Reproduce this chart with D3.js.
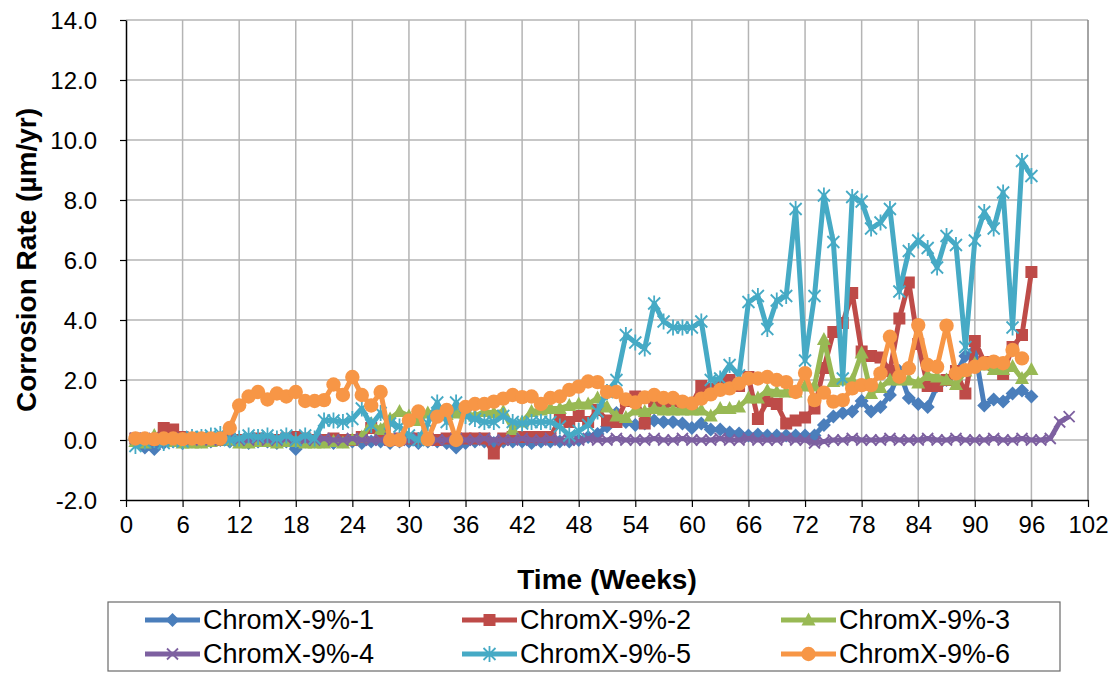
<!DOCTYPE html>
<html>
<head>
<meta charset="utf-8">
<script src="https://cdn.jsdelivr.net/npm/d3@7"></script>
<style>
  html, body { margin: 0; padding: 0; background: #fff; }
  svg { display: block; font-family: "Liberation Sans", Arial, sans-serif; }
</style>
</head>
<body>
<svg id="chart" width="1119" height="673"></svg>
<script>
// Weekly corrosion-rate readings (µm/yr); index 0 = week 1
const seriesNames = ["ChromX-9%-1", "ChromX-9%-2", "ChromX-9%-3", "ChromX-9%-4", "ChromX-9%-5", "ChromX-9%-6"];

const rate1 = [0.0, -0.25, -0.3, -0.1, -0.05, -0.1, -0.05, -0.05, -0.05, 0.0,
  -0.05, -0.05, -0.1, -0.05, -0.05, -0.1, -0.05, -0.3, -0.05, -0.05,
  -0.05, -0.1, -0.05, -0.05, -0.1, -0.05, -0.05, -0.1, -0.05, -0.05,
  -0.1, -0.05, -0.05, -0.1, -0.25, -0.1, -0.05, -0.05, -0.1, -0.05,
  -0.05, -0.05, -0.1, -0.05, -0.05, -0.05, -0.05, 0.0, 0.1, 0.2,
  0.45, 0.9, 0.6, 0.5, 0.55, 0.65, 0.6, 0.6, 0.55, 0.4,
  0.55, 0.35, 0.35, 0.25, 0.22, 0.15, 0.18, 0.15, 0.15, 0.15,
  0.15, 0.15, 0.15, 0.5, 0.78, 0.9, 0.95, 1.3, 0.95, 1.1,
  1.5, 2.3, 1.4, 1.2, 1.1, 1.8, 2.0, 2.2, 2.8, 3.0,
  1.15, 1.35, 1.28, 1.55, 1.65, 1.45];

const rate2 = [0.05, 0.0, 0.0, 0.4, 0.35, 0.1, 0.05, 0.0, 0.0, 0.0,
  0.05, 0.0, 0.0, 0.05, 0.0, 0.0, 0.05, 0.1, 0.05, 0.0,
  0.0, 0.05, 0.0, 0.0, 0.1, 0.4, 0.2, 0.0, 0.05, 0.05,
  0.05, 0.05, 0.0, 0.05, 0.05, 0.05, 0.05, 0.05, -0.45, 0.05,
  0.1, 0.1, 0.1, 0.1, 0.1, 0.7, 0.6, 0.8, 0.6, 1.0,
  0.65, 0.6, 1.3, 1.45, 0.55, 1.3, 1.2, 1.3, 1.2, 1.2,
  1.8, 1.7, 1.9, 2.0, 1.8, 2.1, 0.7, 1.3, 1.2, 0.55,
  0.65, 0.75, 1.05, 2.4, 3.6, 3.9, 4.9, 2.95, 2.8, 2.75,
  2.3, 4.05, 5.25, 3.2, 1.8, 1.8, 2.0, 2.3, 1.55, 3.3,
  2.6, 2.5, 2.2, 3.1, 3.5, 5.6];

const rate3 = [-0.05, -0.1, 0.15, 0.0, -0.05, -0.1, -0.1, -0.1, -0.05, 0.0,
  0.0, -0.1, -0.1, -0.05, -0.05, -0.1, -0.05, -0.05, -0.1, -0.1,
  -0.1, -0.05, -0.1, 0.0, 0.1, 0.55, 0.35, 0.7, 0.95, 0.8,
  0.65, 0.9, 0.95, 0.85, 0.9, 0.9, 0.8, 0.95, 0.9, 0.95,
  0.35, 0.6, 0.95, 1.0, 1.05, 1.05, 1.15, 1.2, 1.2, 1.4,
  1.1, 0.8, 0.75, 1.0, 0.95, 1.05, 1.0, 1.0, 1.0, 1.0,
  1.0, 0.8, 1.05, 1.05, 1.1, 1.4, 1.4, 1.65, 1.6, 1.6,
  1.6, 1.8, 1.8, 3.35, 1.95, 2.0, 2.0, 2.9, 1.55, 1.75,
  2.0, 2.0, 2.0, 1.9, 2.15, 2.1, 2.0, 1.85, 2.3, 2.55,
  2.5, 2.35, 2.35, 2.45, 2.05, 2.35];

const rate4 = [0.05, 0.0, 0.05, 0.0, 0.0, 0.05, 0.0, 0.05, 0.0, 0.0,
  0.05, 0.0, 0.0, 0.05, 0.0, 0.0, 0.05, 0.0, 0.0, 0.0,
  0.05, 0.0, 0.0, 0.05, 0.0, 0.0, 0.0, 0.05, 0.0, 0.0,
  0.05, 0.0, 0.0, 0.0, 0.05, 0.0, 0.0, 0.05, 0.0, 0.0,
  0.0, 0.05, 0.0, 0.0, 0.05, 0.0, 0.0, 0.0, 0.05, 0.0,
  0.0, 0.05, 0.0, 0.0, 0.0, 0.05, 0.0, 0.0, 0.05, 0.0,
  0.0, 0.0, 0.05, 0.0, 0.0, 0.05, 0.0, 0.0, 0.0, 0.05,
  0.0, 0.0, -0.1, -0.05, 0.0, 0.0, 0.05, 0.0, 0.0, 0.0,
  0.05, 0.0, 0.0, 0.0, 0.05, 0.0, 0.0, 0.05, 0.0, 0.0,
  0.0, 0.05, 0.0, 0.0, 0.05, 0.0, 0.0, 0.05, 0.6, 0.78];

const rate5 = [-0.2, -0.05, 0.0, -0.1, 0.0, -0.05, 0.1, 0.1, 0.15, 0.2,
  0.0, 0.05, 0.15, 0.1, 0.15, 0.05, 0.15, 0.0, 0.15, 0.05,
  0.65, 0.65, 0.6, 0.7, 1.05, 0.5, 0.9, 0.55, 0.45, 0.15,
  0.0, 0.55, 1.25, 0.6, 1.25, 0.8, 0.7, 0.6, 0.6, 0.8,
  0.6, 0.55, 0.6, 0.6, 0.6, 0.45, 0.15, 0.3, 0.5, 0.95,
  1.6, 2.0, 3.5, 3.25, 3.05, 4.55, 3.95, 3.75, 3.75, 3.75,
  3.95, 2.0, 2.05, 2.5, 2.15, 4.6, 4.8, 3.7, 4.65, 4.8,
  7.7, 2.65, 4.8, 8.15, 6.6, 2.05, 8.1, 7.95, 7.05, 7.25,
  7.7, 4.95, 6.3, 6.65, 6.4, 5.75, 6.8, 6.5, 3.1, 6.65,
  7.6, 7.05, 8.25, 3.75, 9.3, 8.8];

const rate6 = [0.05, 0.05, 0.03, 0.05, 0.05, 0.03, 0.05, 0.05, 0.05, 0.05,
  0.4, 1.15, 1.45, 1.6, 1.35, 1.55, 1.45, 1.6, 1.3, 1.3,
  1.33, 1.85, 1.5, 2.1, 1.5, 1.15, 1.6, 0.0, 0.0, 0.65,
  0.95, 0.02, 0.78, 1.0, 0.0, 1.1, 1.2, 1.2, 1.28, 1.38,
  1.5, 1.43, 1.45, 1.2, 1.4, 1.45, 1.67, 1.78, 1.95, 1.93,
  1.6, 1.6, 1.35, 1.25, 1.42, 1.5, 1.4, 1.4, 1.28, 1.22,
  1.38, 1.52, 1.67, 1.72, 1.88, 2.05, 2.05, 2.1, 2.0, 1.93,
  1.6, 2.23, 1.33, 1.58, 1.28, 1.33, 1.72, 1.83, 1.83, 2.22,
  3.44, 2.11, 2.39, 3.83, 2.5, 2.44, 3.81, 2.22, 2.33, 2.44,
  2.56, 2.61, 2.56, 3.0, 2.72];

const xTicks = [0, 6, 12, 18, 24, 30, 36, 42, 48, 54, 60, 66, 72, 78, 84, 90, 96, 102];
const yTicks = [-2, 0, 2, 4, 6, 8, 10, 12, 14];

const seriesColors = ["#4A7EBB", "#BE4B48", "#98B954", "#7D60A0", "#46AAC5", "#F79646"];
const seriesMarkers = ["diamond", "square", "triangle", "cross", "star", "circle"];
const seriesRates = [rate1, rate2, rate3, rate4, rate5, rate6];

const svg = d3.select("#chart");
const plot = { left: 126, right: 1088, top: 20, bottom: 500 };

const x = d3.scaleLinear().domain([0, 102]).range([plot.left, plot.right]);
const y = d3.scaleLinear().domain([-2, 14]).range([plot.bottom, plot.top]);

// Gridlines
const grid = svg.append("g").attr("class", "grid");
grid.selectAll("line.h").data(yTicks.filter(v => v > -2)).join("line")
  .attr("x1", plot.left).attr("x2", plot.right)
  .attr("y1", d => y(d)).attr("y2", d => y(d))
  .attr("stroke", "#B4B4B4").attr("stroke-width", 1.5);
grid.selectAll("line.v").data(xTicks.filter(v => v > 0 && v < 102)).join("line")
  .attr("y1", plot.top).attr("y2", plot.bottom)
  .attr("x1", d => x(d)).attr("x2", d => x(d))
  .attr("stroke", "#B4B4B4").attr("stroke-width", 1.5);
// right border of plot area
svg.append("line")
  .attr("x1", plot.right).attr("x2", plot.right)
  .attr("y1", plot.top).attr("y2", plot.bottom)
  .attr("stroke", "#868686").attr("stroke-width", 1.5);

// Axes
const yAxis = d3.axisLeft(y).tickValues(yTicks).tickSize(6).tickSizeOuter(0)
  .tickFormat(d => d.toFixed(1));
const xAxis = d3.axisBottom(x).tickValues(xTicks).tickSize(7).tickSizeOuter(0)
  .tickFormat(d => String(d));

const gy = svg.append("g").attr("transform", `translate(${plot.left},0)`).call(yAxis);
const gx = svg.append("g").attr("transform", `translate(0,${plot.bottom})`).call(xAxis);
[gx, gy].forEach(g => {
  g.select(".domain").attr("stroke", "#000").attr("stroke-width", 1.5);
  g.selectAll(".tick line").attr("stroke", "#000").attr("stroke-width", 1.2);
  g.selectAll(".tick text").attr("fill", "#000").attr("font-size", 24)
    .attr("font-family", "Liberation Sans, Arial, sans-serif");
});
gy.selectAll(".tick text").attr("text-anchor", "end")
  .attr("x", -29).attr("dy", "0.35em");
gx.selectAll(".tick text").attr("y", 16).attr("dy", "0.71em");

// Axis titles
svg.append("text")
  .attr("x", 607).attr("y", 589)
  .attr("text-anchor", "middle")
  .attr("font-size", 28).attr("font-weight", "bold")
  .text("Time (Weeks)");
svg.append("text")
  .attr("transform", `translate(36,${(plot.top + plot.bottom) / 2}) rotate(-90)`)
  .attr("text-anchor", "middle")
  .attr("font-size", 28).attr("font-weight", "bold")
  .text("Corrosion Rate (µm/yr)");

// Marker shapes
function drawMarker(g, type, color) {
  switch (type) {
    case "diamond":
      g.append("path").attr("d", "M0,-7L7,0L0,7L-7,0Z").attr("fill", color);
      break;
    case "square":
      g.append("rect").attr("x", -6).attr("y", -6).attr("width", 12).attr("height", 12).attr("fill", color);
      break;
    case "triangle":
      g.append("path").attr("d", "M0,-7.5L7,5.5L-7,5.5Z").attr("fill", color);
      break;
    case "cross":
      g.append("path").attr("d", "M-5.5,-5.5L5.5,5.5M-5.5,5.5L5.5,-5.5")
        .attr("stroke", color).attr("stroke-width", 1.8).attr("fill", "none");
      break;
    case "star":
      g.append("path").attr("d", "M-6,-6L6,6M-6,6L6,-6M0,-8L0,8")
        .attr("stroke", color).attr("stroke-width", 1.8).attr("fill", "none");
      break;
    case "circle":
      g.append("circle").attr("r", 7.2).attr("fill", color);
      break;
  }
}

// Series lines and markers
const line = d3.line().x((d, i) => x(i + 1)).y(d => y(d));
const plotG = svg.append("g");
seriesRates.forEach((vals, si) => {
  const g = plotG.append("g");
  g.append("path").datum(vals).attr("d", line)
    .attr("fill", "none").attr("stroke", seriesColors[si])
    .attr("stroke-width", 5).attr("stroke-linejoin", "round");
  g.selectAll("g.m").data(vals).join("g")
    .attr("transform", (d, i) => `translate(${x(i + 1)},${y(d)})`)
    .each(function () { drawMarker(d3.select(this), seriesMarkers[si], seriesColors[si]); });
});

// Legend
const legend = svg.append("g");
legend.append("rect").attr("x", 108).attr("y", 602).attr("width", 952).attr("height", 69)
  .attr("fill", "#fff").attr("stroke", "#6a6a6a").attr("stroke-width", 1.2);
const colX = [145, 462, 781];
const rowY = [620, 654];
seriesNames.forEach((name, i) => {
  const cx = colX[i % 3], cy = rowY[Math.floor(i / 3)];
  const g = legend.append("g");
  g.append("line").attr("x1", cx).attr("x2", cx + 55).attr("y1", cy).attr("y2", cy)
    .attr("stroke", seriesColors[i]).attr("stroke-width", 5);
  const mg = g.append("g").attr("transform", `translate(${cx + 27.5},${cy})`);
  drawMarker(mg, seriesMarkers[i], seriesColors[i]);
  g.append("text").attr("x", cx + 58).attr("y", cy).attr("dy", "0.35em")
    .attr("font-size", 27).text(name);
});
</script>
</body>
</html>
